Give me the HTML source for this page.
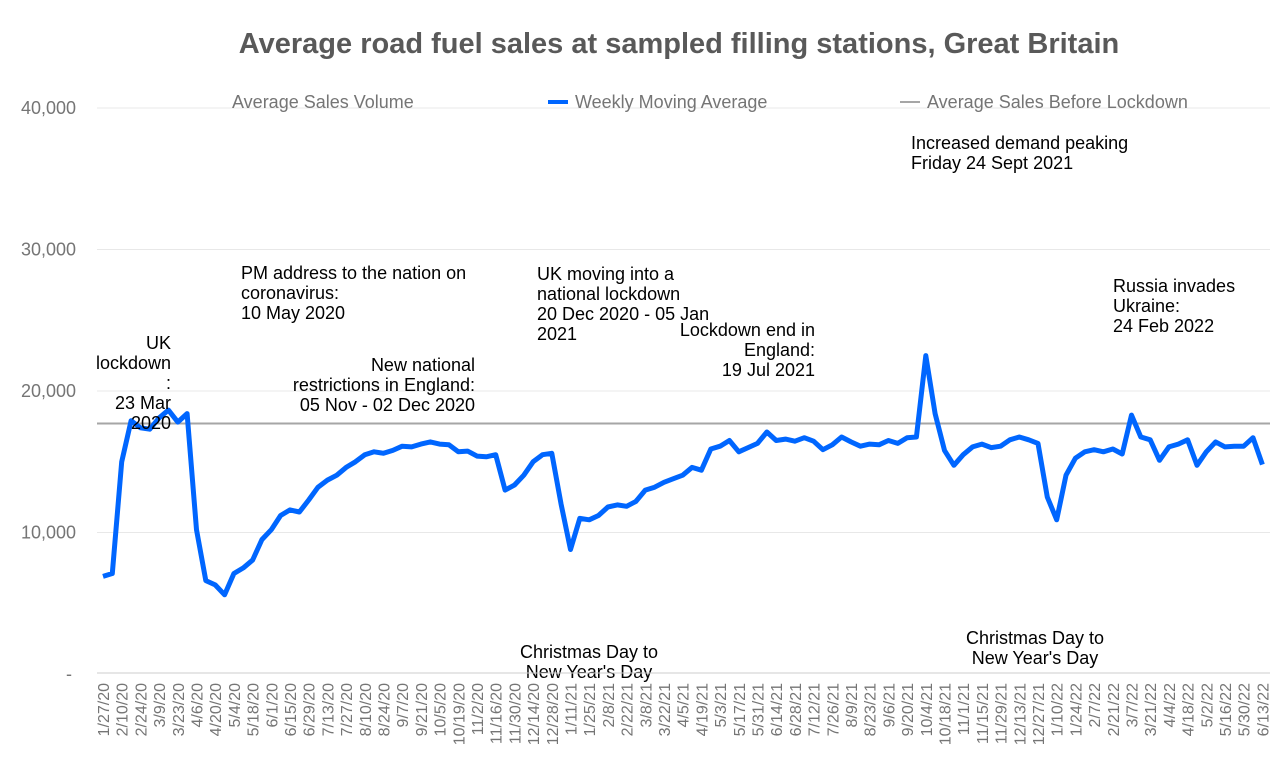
<!DOCTYPE html>
<html><head><meta charset="utf-8"><style>
html,body{margin:0;padding:0;background:#fff;}
svg{display:block;font-family:"Liberation Sans",sans-serif;}
</style></head><body>
<svg id="chart" width="1280" height="761">
<text x="679" y="53" text-anchor="middle" font-size="29" font-weight="bold" fill="#595959">Average road fuel sales at sampled filling stations, Great Britain</text>
<g id="grid"></g><g id="yt"></g><g id="xt"></g>
<line x1="97" y1="424" x2="1270" y2="424" stroke="#a6a6a6" stroke-width="2" id="refline"/>
<path id="line" fill="none" stroke="#0066ff" stroke-width="5" stroke-linejoin="round"/>
<g font-size="18" fill="#757575">
<text x="232" y="108">Average Sales Volume</text>
<line x1="548" y1="102" x2="568" y2="102" stroke="#0066ff" stroke-width="4"/>
<text x="575" y="108">Weekly Moving Average</text>
<line x1="900" y1="102" x2="920" y2="102" stroke="#a6a6a6" stroke-width="2"/>
<text x="927" y="108">Average Sales Before Lockdown</text>
</g>
<g font-size="18" fill="#000">
<text text-anchor="end"><tspan x="171" y="349">UK</tspan><tspan x="171" y="369">lockdown</tspan><tspan x="171" y="389">:</tspan><tspan x="171" y="409">23 Mar</tspan><tspan x="171" y="429">2020</tspan></text>
<text><tspan x="241" y="279">PM address to the nation on</tspan><tspan x="241" y="299">coronavirus:</tspan><tspan x="241" y="319">10 May 2020</tspan></text>
<text text-anchor="end"><tspan x="475" y="371">New national</tspan><tspan x="475" y="391">restrictions in England:</tspan><tspan x="475" y="411">05 Nov - 02 Dec 2020</tspan></text>
<text><tspan x="537" y="280">UK moving into a</tspan><tspan x="537" y="300">national lockdown</tspan><tspan x="537" y="320">20 Dec 2020 - 05 Jan</tspan><tspan x="537" y="340">2021</tspan></text>
<text text-anchor="end"><tspan x="815" y="336">Lockdown end in</tspan><tspan x="815" y="356">England:</tspan><tspan x="815" y="376">19 Jul 2021</tspan></text>
<text><tspan x="911" y="149">Increased demand peaking</tspan><tspan x="911" y="169">Friday 24 Sept 2021</tspan></text>
<text><tspan x="1113" y="292">Russia invades</tspan><tspan x="1113" y="312">Ukraine:</tspan><tspan x="1113" y="332">24 Feb 2022</tspan></text>
<text text-anchor="middle"><tspan x="589" y="658">Christmas Day to</tspan><tspan x="589" y="678">New Year's Day</tspan></text>
<text text-anchor="middle"><tspan x="1035" y="644">Christmas Day to</tspan><tspan x="1035" y="664">New Year's Day</tspan></text>
</g>
<line x1="97" y1="673" x2="1270" y2="673" stroke="#cccccc" stroke-width="1"/>
</svg>
<script>
const weeklyValues=[6900,7100,15000,17900,17400,17300,18100,18650,17800,18400,10200,6600,6300,5600,7100,7500,8050,9500,10200,11200,11600,11450,12300,13200,13700,14050,14600,15000,15500,15700,15600,15800,16100,16050,16250,16400,16250,16200,15700,15750,15400,15350,15500,13000,13350,14050,15000,15500,15600,12000,8800,11000,10900,11200,11800,11950,11850,12200,13000,13200,13550,13800,14050,14600,14400,15900,16100,16500,15700,16000,16300,17100,16500,16600,16450,16700,16450,15850,16200,16750,16400,16100,16250,16200,16500,16300,16700,16750,22500,18400,15800,14750,15500,16050,16250,16000,16100,16550,16750,16550,16300,12500,10900,14050,15250,15700,15850,15700,15900,15550,18300,16750,16550,15100,16050,16250,16550,14750,15700,16400,16050,16100,16100,16700,14800];
const yTicks=[0,10000,20000,30000,40000];
const yTickLabels=["-","10,000","20,000","30,000","40,000"];
const xTickLabels=["1/27/20","2/10/20","2/24/20","3/9/20","3/23/20","4/6/20","4/20/20","5/4/20","5/18/20","6/1/20","6/15/20","6/29/20","7/13/20","7/27/20","8/10/20","8/24/20","9/7/20","9/21/20","10/5/20","10/19/20","11/2/20","11/16/20","11/30/20","12/14/20","12/28/20","1/11/21","1/25/21","2/8/21","2/22/21","3/8/21","3/22/21","4/5/21","4/19/21","5/3/21","5/17/21","5/31/21","6/14/21","6/28/21","7/12/21","7/26/21","8/9/21","8/23/21","9/6/21","9/20/21","10/4/21","10/18/21","11/1/21","11/15/21","11/29/21","12/13/21","12/27/21","1/10/22","1/24/22","2/7/22","2/21/22","3/7/22","3/21/22","4/4/22","4/18/22","5/2/22","5/16/22","5/30/22","6/13/22"];
const preLockdownAverage=17700;
const NS="http://www.w3.org/2000/svg";
const xW=w=>103+w*9.35;
const yV=v=>674-v*0.01415;
const grid=document.getElementById('grid'),yt=document.getElementById('yt'),xt=document.getElementById('xt');
yTicks.forEach((t,i)=>{
 if(t>0){const l=document.createElementNS(NS,'line');
 l.setAttribute('x1',97);l.setAttribute('x2',1270);l.setAttribute('y1',yV(t));l.setAttribute('y2',yV(t));
 l.setAttribute('stroke','#e8e8e8');
 
 
 grid.appendChild(l);}
 const tx=document.createElementNS(NS,'text');
 tx.setAttribute('x',t>0?76:72);tx.setAttribute('y',yV(t)+6);tx.setAttribute('text-anchor','end');
 tx.setAttribute('font-size','18');tx.setAttribute('fill','#757575');tx.textContent=yTickLabels[i];
 
 
 yt.appendChild(tx);
});
xTickLabels.forEach((s,i)=>{
 const x=xW(i*2)+6;
 const tx=document.createElementNS(NS,'text');
 tx.setAttribute('transform',`translate(${x},683) rotate(-90)`);
 tx.setAttribute('text-anchor','end');tx.setAttribute('font-size','16');tx.setAttribute('fill','#757575');
 tx.textContent=s;
 
 
 xt.appendChild(tx);
});
const rl=document.getElementById('refline');rl.setAttribute('y1',yV(preLockdownAverage));rl.setAttribute('y2',yV(preLockdownAverage));
document.getElementById('line').setAttribute('d',weeklyValues.map((v,i)=>(i?'L':'M')+xW(i).toFixed(1)+' '+yV(v).toFixed(1)).join(' '));
</script>
</body></html>
